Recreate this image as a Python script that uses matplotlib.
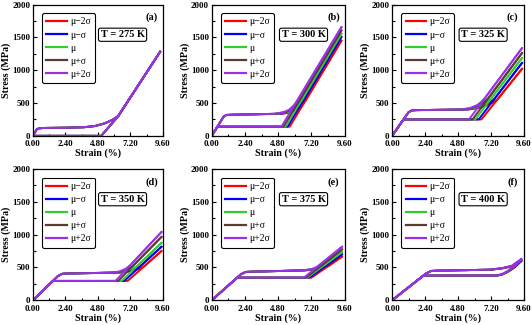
import matplotlib
matplotlib.use('Agg')
import matplotlib.pyplot as plt
from matplotlib.ticker import MultipleLocator, FormatStrFormatter

SERIES = ['μ−2σ', 'μ−σ', 'μ', 'μ+σ', 'μ+2σ']
COLORS = ['#ff0000', '#0000ff', '#33cc33', '#5b3a32', '#9b30e8']
PANEL_TAGS = ['(a)', '(b)', '(c)', '(d)', '(e)', '(f)']
TEMPS = ['T = 275 K', 'T = 300 K', 'T = 325 K', 'T = 350 K', 'T = 375 K', 'T = 400 K']
X_TICKS = [0.0, 2.4, 4.8, 7.2, 9.6]
Y_TICKS = [0, 500, 1000, 1500, 2000]

# ---- Panel (a) T = 275 K ----
A_LOAD_X = [[0, 0.28, 0.45, 0.8, 2.5, 3.8, 4.6, 5.3, 5.9, 6.3, 9.4]] * 5
A_LOAD_Y = [[0, 100, 115, 120, 124, 132, 150, 190, 245, 300, 1280]] * 5
A_UNLOAD_X = [[9.4, 6.3, 5.05, 0.0]] * 5
A_UNLOAD_Y = [[1280, 300, 0, 0]] * 5

# ---- Panel (b) T = 300 K ----
B_LOAD_X = [
    [0, 0.85, 1.05, 1.5, 5.10, 5.80, 6.20, 6.55, 6.80, 9.36],
    [0, 0.85, 1.05, 1.5, 4.95, 5.65, 6.05, 6.40, 6.65, 9.36],
    [0, 0.85, 1.05, 1.5, 4.80, 5.50, 5.90, 6.25, 6.50, 9.36],
    [0, 0.85, 1.05, 1.5, 4.65, 5.35, 5.75, 6.10, 6.35, 9.36],
    [0, 0.85, 1.05, 1.5, 4.50, 5.20, 5.60, 5.95, 6.20, 9.36],
]
B_LOAD_Y = [
    [0, 290, 318, 322, 336, 362, 400, 470, 545, 1450],
    [0, 290, 318, 322, 336, 362, 400, 470, 545, 1505],
    [0, 290, 318, 322, 336, 362, 400, 470, 545, 1555],
    [0, 290, 318, 322, 336, 362, 400, 470, 545, 1605],
    [0, 290, 318, 322, 336, 362, 400, 470, 545, 1655],
]
B_UNLOAD_X = [
    [9.36, 5.63, 0.41, 0],
    [9.36, 5.48, 0.41, 0],
    [9.36, 5.33, 0.41, 0],
    [9.36, 5.18, 0.41, 0],
    [9.36, 5.03, 0.41, 0],
]
B_UNLOAD_Y = [
    [1450, 140, 140, 0],
    [1505, 140, 140, 0],
    [1555, 140, 140, 0],
    [1605, 140, 140, 0],
    [1655, 140, 140, 0],
]

# ---- Panel (c) T = 325 K ----
C_LOAD_X = [
    [0, 1.2, 1.45, 1.8, 5.60, 6.40, 7.00, 7.35, 7.65, 9.45],
    [0, 1.2, 1.45, 1.8, 5.45, 6.20, 6.80, 7.12, 7.42, 9.45],
    [0, 1.2, 1.45, 1.8, 5.30, 6.05, 6.60, 6.90, 7.18, 9.45],
    [0, 1.2, 1.45, 1.8, 5.15, 5.85, 6.40, 6.70, 6.99, 9.45],
    [0, 1.2, 1.45, 1.8, 5.00, 5.70, 6.20, 6.50, 6.77, 9.45],
]
C_LOAD_Y = [
    [0, 360, 388, 392, 402, 430, 470, 510, 550, 1020],
    [0, 360, 388, 392, 401, 429, 470, 512, 555, 1110],
    [0, 360, 388, 392, 401, 428, 470, 515, 560, 1185],
    [0, 360, 388, 392, 400, 427, 470, 520, 570, 1260],
    [0, 360, 388, 392, 400, 425, 470, 520, 580, 1335],
]
C_UNLOAD_X = [
    [9.45, 6.50, 0.83, 0],
    [9.45, 6.30, 0.83, 0],
    [9.45, 6.05, 0.83, 0],
    [9.45, 5.85, 0.83, 0],
    [9.45, 5.60, 0.83, 0],
]
C_UNLOAD_Y = [
    [1020, 250, 250, 0],
    [1110, 250, 250, 0],
    [1185, 250, 250, 0],
    [1260, 250, 250, 0],
    [1335, 250, 250, 0],
]

# ---- Panel (d) T = 350 K ----
D_LOAD_X = [
    [0, 1.85, 2.15, 2.5, 6.60, 7.30, 7.80, 8.15, 9.5],
    [0, 1.85, 2.15, 2.5, 6.40, 7.05, 7.55, 7.89, 9.5],
    [0, 1.85, 2.15, 2.5, 6.20, 6.85, 7.30, 7.67, 9.5],
    [0, 1.85, 2.15, 2.5, 6.00, 6.60, 7.05, 7.40, 9.5],
    [0, 1.85, 2.15, 2.5, 5.80, 6.40, 6.85, 7.20, 9.5],
]
D_LOAD_Y = [
    [0, 370, 403, 408, 425, 445, 475, 505, 750],
    [0, 370, 403, 408, 423, 443, 476, 510, 815],
    [0, 370, 403, 408, 422, 442, 476, 515, 875],
    [0, 370, 403, 408, 421, 440, 478, 525, 965],
    [0, 370, 403, 408, 420, 440, 480, 535, 1040],
]
D_UNLOAD_X = [
    [9.5, 7.00, 1.47, 0],
    [9.5, 6.75, 1.47, 0],
    [9.5, 6.55, 1.47, 0],
    [9.5, 6.30, 1.47, 0],
    [9.5, 6.10, 1.47, 0],
]
D_UNLOAD_Y = [
    [750, 295, 295, 0],
    [815, 295, 295, 0],
    [875, 295, 295, 0],
    [965, 295, 295, 0],
    [1040, 295, 295, 0],
]

# ---- Panel (e) T = 375 K ----
E_LOAD_X = [
    [0, 2.1, 2.45, 2.9, 6.80, 7.60, 8.05, 8.41, 9.4],
    [0, 2.1, 2.45, 2.9, 6.70, 7.50, 7.95, 8.28, 9.4],
    [0, 2.1, 2.45, 2.9, 6.65, 7.40, 7.83, 8.15, 9.4],
    [0, 2.1, 2.45, 2.9, 6.60, 7.30, 7.72, 8.04, 9.4],
    [0, 2.1, 2.45, 2.9, 6.50, 7.20, 7.60, 7.91, 9.4],
]
E_LOAD_Y = [
    [0, 395, 432, 436, 457, 475, 495, 520, 665],
    [0, 395, 432, 436, 456, 475, 498, 530, 700],
    [0, 395, 432, 436, 456, 475, 502, 540, 735],
    [0, 395, 432, 436, 455, 474, 505, 550, 775],
    [0, 395, 432, 436, 455, 475, 510, 560, 815],
]
E_UNLOAD_X = [
    [9.4, 7.20, 1.83, 0],
    [9.4, 7.05, 1.83, 0],
    [9.4, 6.90, 1.83, 0],
    [9.4, 6.80, 1.83, 0],
    [9.4, 6.65, 1.83, 0],
]
E_UNLOAD_Y = [
    [665, 345, 345, 0],
    [700, 345, 345, 0],
    [735, 345, 345, 0],
    [775, 345, 345, 0],
    [815, 345, 345, 0],
]

# ---- Panel (f) T = 400 K ----
F_LOAD_X = [
    [0, 2.5, 2.85, 3.3, 7.20, 8.05, 8.75, 9.4],
    [0, 2.5, 2.85, 3.3, 7.17, 8.04, 8.74, 9.4],
    [0, 2.5, 2.85, 3.3, 7.15, 8.02, 8.72, 9.4],
    [0, 2.5, 2.85, 3.3, 7.12, 8.01, 8.71, 9.4],
    [0, 2.5, 2.85, 3.3, 7.10, 8.00, 8.70, 9.4],
]
F_LOAD_Y = [
    [0, 412, 447, 452, 466, 488, 518, 595],
    [0, 412, 447, 452, 466, 488, 520, 605],
    [0, 412, 447, 452, 466, 489, 521, 615],
    [0, 412, 447, 452, 466, 489, 523, 622],
    [0, 412, 447, 452, 466, 490, 525, 630],
]
F_UNLOAD_X = [
    [9.4, 8.95, 8.45, 8.05, 7.70, 2.27, 0],
    [9.4, 8.94, 8.44, 8.04, 7.67, 2.27, 0],
    [9.4, 8.92, 8.42, 8.02, 7.65, 2.27, 0],
    [9.4, 8.91, 8.41, 8.01, 7.62, 2.27, 0],
    [9.4, 8.90, 8.40, 8.00, 7.60, 2.27, 0],
]
F_UNLOAD_Y = [
    [595, 505, 435, 395, 378, 375, 0],
    [605, 510, 438, 396, 378, 375, 0],
    [615, 515, 440, 397, 378, 375, 0],
    [622, 520, 443, 397, 378, 375, 0],
    [630, 525, 445, 398, 378, 375, 0],
]

PANEL_DATA = [
    (A_LOAD_X, A_LOAD_Y, A_UNLOAD_X, A_UNLOAD_Y),
    (B_LOAD_X, B_LOAD_Y, B_UNLOAD_X, B_UNLOAD_Y),
    (C_LOAD_X, C_LOAD_Y, C_UNLOAD_X, C_UNLOAD_Y),
    (D_LOAD_X, D_LOAD_Y, D_UNLOAD_X, D_UNLOAD_Y),
    (E_LOAD_X, E_LOAD_Y, E_UNLOAD_X, E_UNLOAD_Y),
    (F_LOAD_X, F_LOAD_Y, F_UNLOAD_X, F_UNLOAD_Y),
]

SERIF = 'Liberation Serif'
plt.rcParams['font.family'] = [SERIF, 'DejaVu Serif']

fig = plt.figure(figsize=(5.32, 3.25), dpi=100)

lefts = [0.062, 0.398, 0.737]
widths = [0.244, 0.250, 0.248]
bottoms = [0.582, 0.076]
height = 0.404

for k in range(6):
    r, c = divmod(k, 3)
    ax = fig.add_axes([lefts[c], bottoms[r], widths[c], height])
    lx, ly, ux, uy = PANEL_DATA[k]
    for i in range(5):
        ax.plot(lx[i], ly[i], color=COLORS[i], lw=1.4, label=SERIES[i],
                solid_joinstyle='round')
        ax.plot(ux[i], uy[i], color=COLORS[i], lw=1.4, solid_joinstyle='round')
    ax.set_xlim(0, 9.6)
    ax.set_ylim(0, 2000)
    ax.set_xticks(X_TICKS)
    ax.set_yticks(Y_TICKS)
    ax.xaxis.set_major_formatter(FormatStrFormatter('%.2f'))
    ax.xaxis.set_minor_locator(MultipleLocator(1.2))
    ax.yaxis.set_minor_locator(MultipleLocator(250))
    ax.tick_params(which='both', direction='in', labelsize=6.5, width=0.8)
    ax.tick_params(axis='x', pad=3.2)
    ax.tick_params(axis='y', pad=2.0)
    ax.tick_params(which='major', length=3)
    ax.tick_params(which='minor', length=1.8)
    for lab in ax.get_xticklabels() + ax.get_yticklabels():
        lab.set_fontweight('bold')
    for sp in ax.spines.values():
        sp.set_linewidth(0.9)
    ax.set_xlabel('Strain (%)', fontsize=7.2, fontweight='bold', labelpad=0.3)
    ax.set_ylabel('Stress (MPa)', fontsize=7.2, fontweight='bold', labelpad=1)
    leg = ax.legend(loc='upper left', bbox_to_anchor=(0.07, 0.935), fontsize=7,
                    handlelength=2.1, handletextpad=0.3, labelspacing=0.42,
                    borderpad=0.45, fancybox=True, framealpha=1,
                    edgecolor='black', borderaxespad=0)
    leg.get_frame().set_linewidth(0.8)
    for h in leg.get_lines():
        h.set_linewidth(1.6)
    ax.text(0.69, 0.77, TEMPS[k], transform=ax.transAxes, fontsize=7.5,
            fontweight='bold', ha='center', va='center',
            bbox=dict(boxstyle='round,pad=0.2', fc='white', ec='black', lw=0.8))
    ax.text(0.915, 0.90, PANEL_TAGS[k], transform=ax.transAxes, fontsize=7.5,
            fontweight='bold', ha='center', va='center')

fig.savefig('out.png', dpi=100)
